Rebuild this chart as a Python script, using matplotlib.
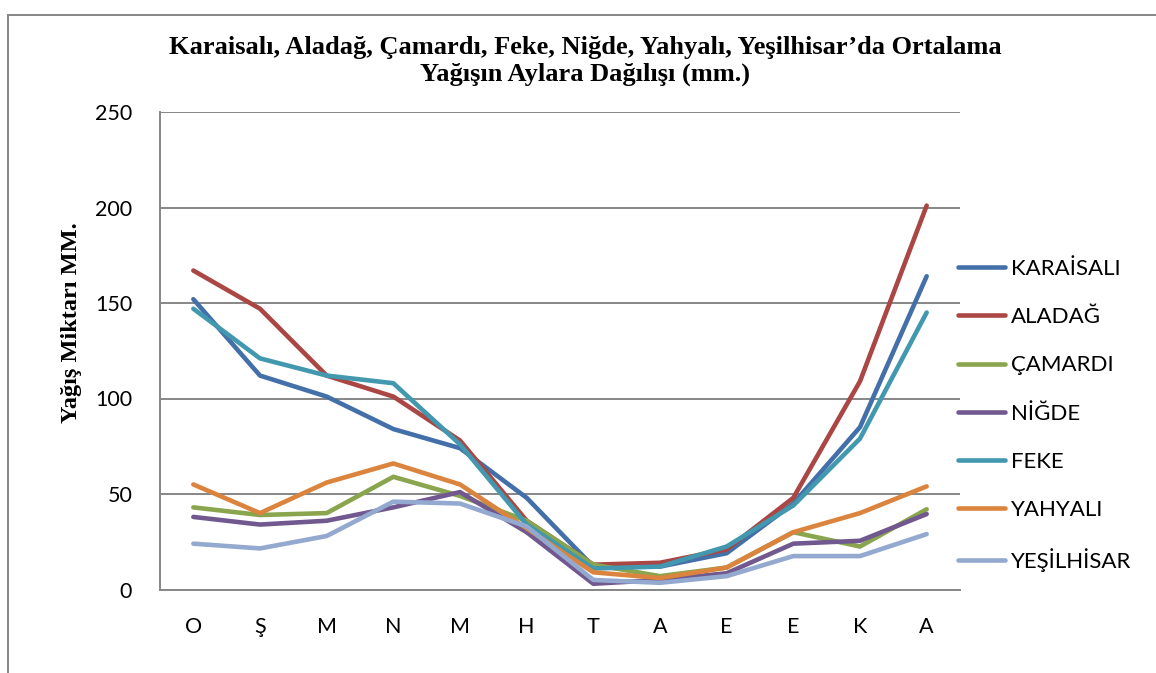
import matplotlib
matplotlib.use("Agg")
import matplotlib.pyplot as plt
from matplotlib.lines import Line2D

months = ["O", "Ş", "M", "N", "M", "H", "T", "A", "E", "E", "K", "A"]

karaisali = [152, 112, 101, 84, 74, 48, 12, 12, 19, 45, 85, 164]
aladag = [167, 147, 112, 101, 78, 36, 13, 14, 21, 48, 109, 201]
camardi = [43, 39, 40, 59, 49, 36, 13, 7, 11.5, 30, 22.5, 42]
nigde = [38, 34, 36, 43, 51, 30, 3, 5, 8.5, 24, 25.5, 39.5]
feke = [147, 121, 112, 108, 76, 34, 11, 12, 22.5, 44, 79, 145]
yahyali = [55, 40, 56, 66, 55, 32, 9, 6, 11.5, 30, 40, 54]
yesilhisar = [24, 21.5, 28, 46, 45, 33, 5, 3.5, 7, 17.5, 17.5, 29]

series = [
    ("KARAİSALI", karaisali, "#4470A9"),
    ("ALADAĞ", aladag, "#AA4643"),
    ("ÇAMARDI", camardi, "#89A54E"),
    ("NİĞDE", nigde, "#71588F"),
    ("FEKE", feke, "#4198AF"),
    ("YAHYALI", yahyali, "#DB843D"),
    ("YEŞİLHİSAR", yesilhisar, "#93A9CF"),
]

grid_color = "#868686"

fig = plt.figure(figsize=(11.56, 6.73), dpi=100)
ax = fig.add_axes([160 / 1156, 1 - 589.5 / 673, 800 / 1156, 477.5 / 673])

x = list(range(len(months)))
for name, vals, col in series:
    ax.plot(x, vals, color=col, lw=3.3, label=name,
            solid_capstyle="round", solid_joinstyle="round")

ax.set_xlim(-0.5, len(months) - 0.5)
ax.set_ylim(0, 250)
ax.set_yticks([0, 50, 100, 150, 200, 250])
ax.set_xticks(x)
ax.set_xticklabels(months)
ax.tick_params(axis="both", length=0, labelsize=15.5, colors="black")
ax.tick_params(axis="y", pad=20)
ax.tick_params(axis="x", pad=20)
for lab in ax.get_xticklabels() + ax.get_yticklabels():
    lab.set_family("Lato")

ax.yaxis.grid(True, color=grid_color, lw=1.4)
ax.set_axisbelow(True)
for s in ["top", "right"]:
    ax.spines[s].set_visible(False)
for s in ["left", "bottom"]:
    ax.spines[s].set_color(grid_color)
    ax.spines[s].set_linewidth(1.4)

fig.text(72 / 1156, 1 - 323 / 673, "Yağış Miktarı MM.", rotation=90,
         ha="center", va="center", family="Liberation Serif",
         fontweight="bold", fontsize=17.5)

fig.text(585 / 1156, 1 - 61 / 673,
         "Karaisalı, Aladağ, Çamardı, Feke, Niğde, Yahyalı, Yeşilhisar’da Ortalama\nYağışın Aylara Dağılışı (mm.)",
         ha="center", va="center", family="Liberation Serif",
         fontweight="bold", fontsize=19, linespacing=1.22)

leg = ax.legend(loc="upper left", bbox_to_anchor=(958 / 1156, 1 - 259 / 673),
                bbox_transform=fig.transFigure, frameon=False,
                prop={"family": "Lato", "size": 16}, labelspacing=1.27,
                handlelength=2.1, handletextpad=0.3, borderaxespad=0,
                borderpad=0)

# chart frame (top and left)
fig.add_artist(Line2D([8 / 1156, 1], [1 - 15 / 673, 1 - 15 / 673],
                      color=grid_color, lw=1.4, transform=fig.transFigure))
fig.add_artist(Line2D([8 / 1156, 8 / 1156], [0, 1 - 15 / 673],
                      color=grid_color, lw=1.4, transform=fig.transFigure))

fig.savefig("out.png", dpi=100)
